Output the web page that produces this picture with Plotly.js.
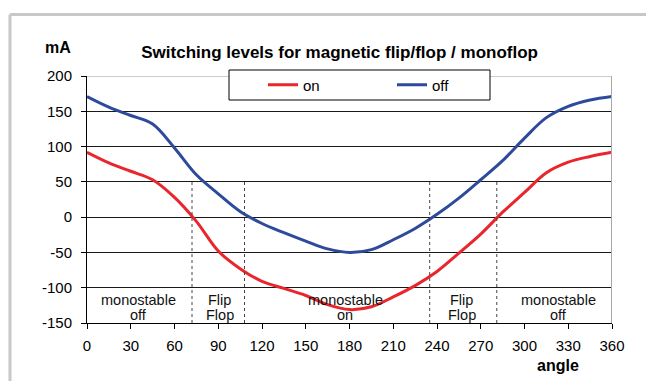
<!DOCTYPE html>
<html>
<head>
<meta charset="utf-8">
<script src="https://cdn.plot.ly/plotly-3.0.1.min.js"></script>
<style>
  html, body { margin: 0; padding: 0; background: #ffffff; }
  #chart { width: 646px; height: 381px; }
</style>
</head>
<body>
<div id="chart"></div>
<script>
// ---- data ----
const angles  = [0, 15, 30, 45, 60, 75, 90, 105, 120, 135, 150, 165, 180, 195, 210, 225, 240, 255, 270, 285, 300, 315, 330, 345, 360];
const onVals  = [92, 77, 65, 53, 28, -6, -48, -73, -91, -101, -111, -124, -131, -127, -113, -97, -77, -51, -24, 7, 35, 63, 78, 86, 92];
const offVals = [171, 156, 144, 132, 98, 60, 33, 8, -9, -22, -34, -45, -50, -46, -32, -16, 4, 27, 53, 80, 112, 141, 157, 166, 171];
const seriesNames = ['on', 'off'];
const xTicks = [0, 30, 60, 90, 120, 150, 180, 210, 240, 270, 300, 330, 360];
const yTicks = [-150, -100, -50, 0, 50, 100, 150, 200];
const regionBounds = [72, 108, 235, 281];
const regionCenters = [35, 91, 177, 257, 323];
const regionLine1 = ['monostable', 'Flip', 'monostable', 'Flip', 'monostable'];
const regionLine2 = ['off', 'Flop', 'on', 'Flop', 'off'];

const FONT = 'Liberation Sans, Arial, sans-serif';
const RED = '#e8262b';
const BLUE = '#2d4a9c';

const traces = [
  { x: angles, y: onVals, name: seriesNames[0], type: 'scatter', mode: 'lines',
    line: { color: RED, width: 3, shape: 'spline', smoothing: 1 } },
  { x: angles, y: offVals, name: seriesNames[1], type: 'scatter', mode: 'lines',
    line: { color: BLUE, width: 3, shape: 'spline', smoothing: 1 } }
];

const shapes = [];
// outer frame (top and left)
shapes.push({ type: 'line', xref: 'paper', yref: 'paper', x0: -0.1467, x1: 1.07, y0: 1.2489, y1: 1.2489,
  line: { color: '#c8c8c8', width: 3 }, layer: 'above' });
shapes.push({ type: 'line', xref: 'paper', yref: 'paper', x0: -0.1467, x1: -0.1467, y0: 1.2489, y1: -0.24,
  line: { color: '#c8c8c8', width: 3 }, layer: 'above' });
// top border of plot (gray) and right border
shapes.push({ type: 'line', xref: 'x', yref: 'y', x0: 0, x1: 360, y0: 200, y1: 200,
  line: { color: '#9a9a9a', width: 1 }, layer: 'above' });
shapes.push({ type: 'line', xref: 'x', yref: 'y', x0: 360, x1: 360, y0: -150, y1: 200,
  line: { color: '#a8a8a8', width: 2 }, layer: 'above' });
// region boundaries (dotted)
regionBounds.forEach(b => shapes.push({ type: 'line', xref: 'x', yref: 'y', x0: b, x1: b, y0: -150, y1: 50,
  line: { color: '#444444', width: 1, dash: 'dot' }, layer: 'above' }));
// legend box
shapes.push({ type: 'rect', xref: 'paper', yref: 'paper',
  x0: (229 - 87) / 525, x1: (490 - 87) / 525, y0: (323 - 100) / 247, y1: (323 - 70) / 247,
  line: { color: '#000000', width: 1 }, fillcolor: '#ffffff', layer: 'above' });

const annotations = [];
regionCenters.forEach((c, i) => {
  annotations.push({ x: c, y: -118, xref: 'x', yref: 'y', text: regionLine1[i], showarrow: false,
    font: { family: FONT, size: 14.5, color: '#111' }, xanchor: 'center', yanchor: 'middle' });
  annotations.push({ x: c, y: -138, xref: 'x', yref: 'y', text: regionLine2[i], showarrow: false,
    font: { family: FONT, size: 14.5, color: '#111' }, xanchor: 'center', yanchor: 'middle' });
});
annotations.push({ x: (58 - 87) / 525, y: (323 - 47.5) / 247, xref: 'paper', yref: 'paper', text: 'mA',
  showarrow: false, font: { family: FONT, size: 16, color: '#000', weight: 'bold' }, xanchor: 'center', yanchor: 'middle' });
annotations.push({ x: (558 - 87) / 525, y: (323 - 365) / 247, xref: 'paper', yref: 'paper', text: 'angle',
  showarrow: false, font: { family: FONT, size: 16, color: '#000', weight: 'bold' }, xanchor: 'center', yanchor: 'middle' });

const layout = {
  width: 646, height: 381,
  margin: { l: 87, r: 34, t: 76, b: 58, pad: 0 },
  paper_bgcolor: '#ffffff', plot_bgcolor: '#ffffff',
  font: { family: FONT, size: 15, color: '#000' },
  title: { text: 'Switching levels for magnetic flip/flop / monoflop',
    font: { family: FONT, size: 17, color: '#000', weight: 'bold' },
    xref: 'paper', x: (339.6 - 87) / 525, xanchor: 'center',
    yref: 'container', y: 1 - 52 / 381, yanchor: 'middle' },
  xaxis: { range: [0, 360], tickvals: xTicks, ticktext: xTicks.map(String),
    showgrid: false, zeroline: false, showline: true, linecolor: '#000', linewidth: 1,
    ticks: 'outside', ticklen: 5, tickcolor: '#000', ticklabelstandoff: 4,
    tickfont: { family: FONT, size: 15, color: '#000' }, fixedrange: true },
  yaxis: { range: [-150, 200], tickvals: yTicks, ticktext: yTicks.map(String),
    showgrid: true, gridcolor: '#1a1a1a', gridwidth: 1, zeroline: false,
    showline: true, linecolor: '#000', linewidth: 1,
    ticks: 'outside', ticklen: 5, tickcolor: '#000', ticklabelstandoff: 6,
    tickfont: { family: FONT, size: 15, color: '#000' }, fixedrange: true },
  showlegend: true,
  legend: { orientation: 'h', x: (263 - 87) / 525, xanchor: 'left', y: (323 - 85) / 247, yanchor: 'middle',
    bgcolor: 'rgba(0,0,0,0)', borderwidth: 0, entrywidth: 84,
    font: { family: FONT, size: 15, color: '#000' } },
  shapes: shapes,
  annotations: annotations,
  hovermode: false
};

Plotly.newPlot('chart', traces, layout, { displayModeBar: false, staticPlot: true });
</script>
</body>
</html>
